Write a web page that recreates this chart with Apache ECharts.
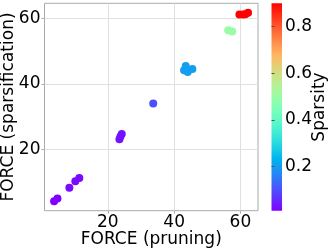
<!DOCTYPE html>
<html><head><meta charset="utf-8">
<script src="https://cdn.jsdelivr.net/npm/echarts@6/dist/echarts.min.js"></script>
<style>html,body{margin:0;padding:0;background:#fff}#c{width:332px;height:251px}</style>
</head><body><div id="c"></div>
<script>
var forcePruning = [3.8, 4.8, 8.4, 10.2, 11.4, 23.5, 23.8, 24.2, 33.7, 43.5, 43.0, 44.1, 45.5, 56.3, 57.5, 59.7, 60.8, 61.5, 62.3];
var forceSparsification = [4.3, 5.1, 8.4, 10.4, 11.4, 23.2, 24.0, 24.8, 34.1, 45.5, 44.2, 43.7, 44.6, 56.4, 56.0, 61.2, 61.2, 61.3, 61.7];
var sparsity = [0.01, 0.01, 0.02, 0.02, 0.02, 0.03, 0.03, 0.03, 0.1, 0.2, 0.2, 0.2, 0.2, 0.5, 0.5, 0.9, 0.9, 0.9, 0.9];
var xTicks = [20, 40, 60];
var yTicks = [20, 40, 60];
var cbTicks = [0.2, 0.4, 0.6, 0.8];
var xTitle = 'FORCE (pruning)';
var yTitle = 'FORCE (sparsification)';
var cbTitle = 'Sparsity';

function rainbow(x){
  var r = Math.min(1, Math.abs(2*x - 0.5));
  var g = Math.sin(Math.PI*x);
  var b = Math.cos(Math.PI*x/2);
  var h = function(v){v=Math.max(0,Math.min(1,v));var s=Math.round(v*255).toString(16);return s.length<2?'0'+s:s;};
  return '#'+h(r)+h(g)+h(b);
}
var N = 20, rainbowColors = [], stops = [];
for (var i=0;i<=N;i++){ rainbowColors.push(rainbow(i/N)); stops.push({offset:i/N,color:rainbow(i/N)}); }

var cbMin = 0.01, cbMax = 0.9;
var data = forcePruning.map(function(x,i){return [x, forceSparsification[i], sparsity[i]];});
var font = 'DejaVu Sans';
var chart = echarts.init(document.getElementById('c'));
chart.setOption({
  animation:false,
  grid:[
    {left:44.5, top:3.3, width:213.5, height:207.4, show:true, borderColor:'#aaaaaa', borderWidth:1, outerBoundsMode:'none', containLabel:false},
    {left:271.5, top:3.3, width:10.5, height:207.4, show:true, borderWidth:0, outerBoundsMode:'none', containLabel:false,
     backgroundColor:{type:'linear',x:0,y:1,x2:0,y2:0,colorStops:stops}}
  ],
  xAxis:[
    {gridIndex:0, type:'value', min:0.9, max:65.3,
     name:xTitle, nameLocation:'middle', nameGap:20, nameMoveOverlap:false,
     nameTextStyle:{fontFamily:font,fontSize:17,color:'#000'},
     axisLine:{show:false}, axisTick:{show:true,length:3,lineStyle:{color:'#aaaaaa'},customValues:xTicks},
     axisLabel:{customValues:xTicks,fontFamily:font,fontSize:17,color:'#000',margin:3},
     splitLine:{show:true,lineStyle:{color:'#e0e0e0',width:1}}},
    {gridIndex:1, type:'value', min:0, max:1, show:false}
  ],
  yAxis:[
    {gridIndex:0, type:'value', min:1.4, max:64.6,
     name:yTitle, nameLocation:'middle', nameGap:27.5, nameMoveOverlap:false,
     nameTextStyle:{fontFamily:font,fontSize:17,color:'#000'},
     axisLine:{show:false}, axisTick:{show:true,length:3,lineStyle:{color:'#aaaaaa'},customValues:yTicks},
     axisLabel:{customValues:yTicks,fontFamily:font,fontSize:17,color:'#000',margin:4},
     splitLine:{show:true,lineStyle:{color:'#e0e0e0',width:1}}},
    {gridIndex:1, type:'value', min:cbMin, max:cbMax, position:'right',
     name:cbTitle, nameLocation:'middle', nameGap:29, nameRotate:90, nameMoveOverlap:false,
     nameTextStyle:{fontFamily:font,fontSize:17,color:'#000'},
     axisLine:{show:false}, axisTick:{show:true,length:3,lineStyle:{color:'#555'},customValues:cbTicks},
     axisLabel:{customValues:cbTicks,fontFamily:font,fontSize:17,color:'#000',margin:3},
     splitLine:{show:false}}
  ],
  visualMap:{show:false, type:'continuous', seriesIndex:0, dimension:2, min:cbMin, max:cbMax,
    inRange:{color:rainbowColors}},
  series:[{type:'scatter', xAxisIndex:0, yAxisIndex:0, data:data, symbolSize:8,
    itemStyle:{opacity:1}}]
});
</script></body></html>
